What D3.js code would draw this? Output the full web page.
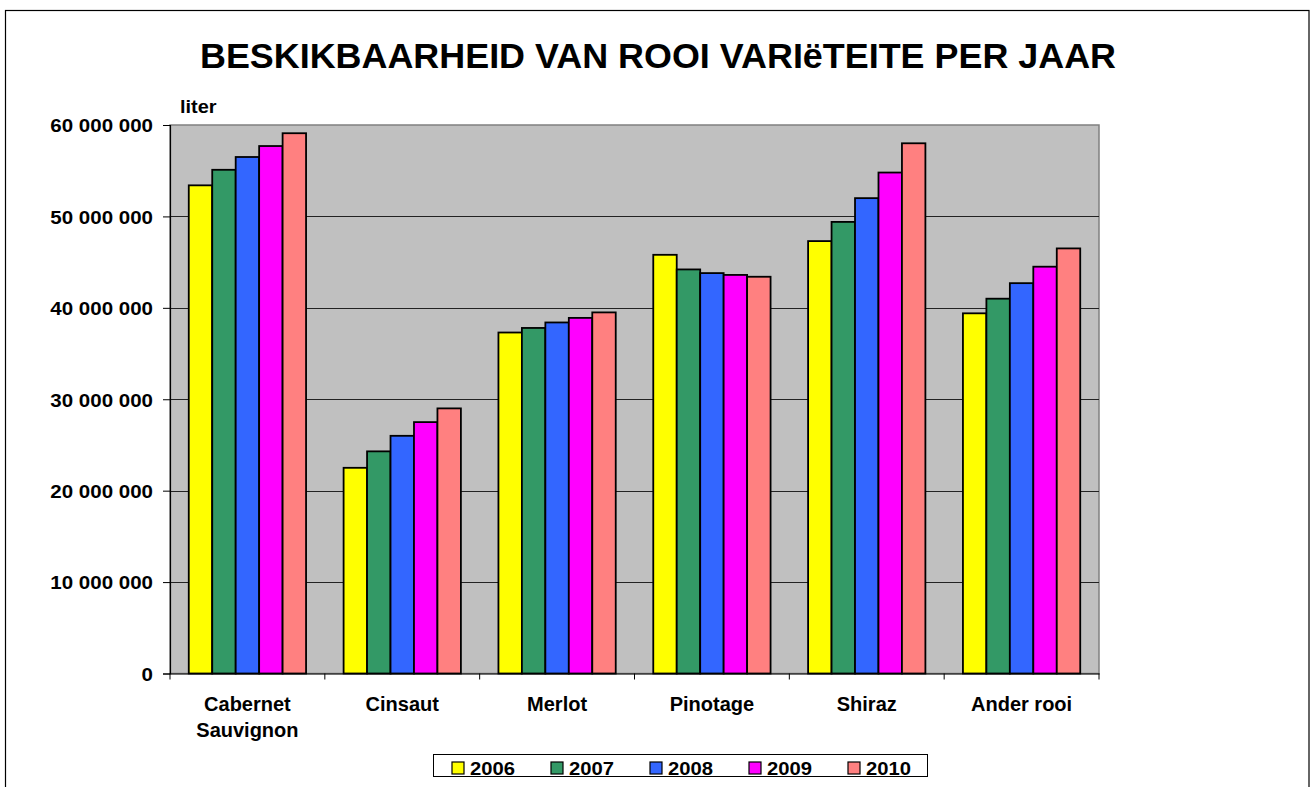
<!DOCTYPE html>
<html>
<head>
<meta charset="utf-8">
<script src="https://cdn.jsdelivr.net/npm/d3@7"></script>
<style>
  body { margin: 0; background: #fff; }
  text { font-family: Arial, "Liberation Sans", sans-serif; font-weight: bold; fill: #000; }
</style>
</head>
<body>
<svg id="chart" width="1311" height="787"></svg>
<script>
const categories = ["Cabernet Sauvignon", "Cinsaut", "Merlot", "Pinotage", "Shiraz", "Ander rooi"];
const categoryLines = [["Cabernet", "Sauvignon"], ["Cinsaut"], ["Merlot"], ["Pinotage"], ["Shiraz"], ["Ander rooi"]];
const years = ["2006", "2007", "2008", "2009", "2010"];
const colors = ["#FFFF00", "#339966", "#3366FF", "#FF00FF", "#FF8080"];
const values2006 = [53400000, 22500000, 37300000, 45800000, 47300000, 39400000];
const values2007 = [55100000, 24300000, 37800000, 44200000, 49400000, 41000000];
const values2008 = [56500000, 26000000, 38400000, 43800000, 52000000, 42700000];
const values2009 = [57700000, 27500000, 38900000, 43600000, 54800000, 44500000];
const values2010 = [59100000, 29000000, 39500000, 43400000, 58000000, 46500000];
const series = [values2006, values2007, values2008, values2009, values2010];
const yTicks = [0, 10000000, 20000000, 30000000, 40000000, 50000000, 60000000];
const title = "BESKIKBAARHEID VAN ROOI VARIëTEITE PER JAAR";
const unitLabel = "liter";

const svg = d3.select("#chart");
const plot = { left: 170, right: 1099, top: 125, bottom: 673.5 };

function fitWidth(sel, target) {
  sel.attr("textLength", target).attr("lengthAdjust", "spacingAndGlyphs");
}
function stretch(sel, f) {
  sel.each(function () {
    const w = this.getComputedTextLength();
    d3.select(this).attr("textLength", w * f).attr("lengthAdjust", "spacingAndGlyphs");
  });
}

// outer border
svg.append("rect").attr("x", 5.5).attr("y", 10.5).attr("width", 1303.5).attr("height", 790)
  .attr("fill", "none").attr("stroke", "#000").attr("stroke-width", 1.2);

const x0 = d3.scaleBand().domain(categories).range([plot.left, plot.right]).padding(0);
const x1 = d3.scaleBand().domain(years).range([0, x0.bandwidth()]).paddingInner(0).paddingOuter(0.8);
const y = d3.scaleLinear().domain([0, 60000000]).range([plot.bottom, plot.top]);

// plot background
svg.append("rect").attr("x", plot.left).attr("y", plot.top)
  .attr("width", plot.right - plot.left).attr("height", plot.bottom - plot.top)
  .attr("fill", "#C0C0C0").attr("stroke", "#808080").attr("stroke-width", 1.5);

// gridlines
svg.append("g").selectAll("line").data(yTicks.filter(d => d > 0 && d < 60000000)).join("line")
  .attr("x1", plot.left).attr("x2", plot.right)
  .attr("y1", d => Math.round(y(d)) + 0.5).attr("y2", d => Math.round(y(d)) + 0.5)
  .attr("stroke", "#222").attr("stroke-width", 1);

// bars
const gBars = svg.append("g");
years.forEach((yr, si) => {
  gBars.selectAll(null).data(categories).join("rect")
    .attr("x", c => x0(c) + x1(yr))
    .attr("y", (c, i) => y(series[si][i]))
    .attr("width", x1.bandwidth())
    .attr("height", (c, i) => plot.bottom - y(series[si][i]))
    .attr("fill", colors[si])
    .attr("stroke", "#000").attr("stroke-width", 1.8);
});

// y axis
const yAxis = d3.axisLeft(y).tickValues(yTicks).tickSize(7).tickPadding(10)
  .tickFormat(d => d3.format(",")(d).replace(/,/g, " "));
const gy = svg.append("g").attr("transform", `translate(${plot.left},0)`).call(yAxis);
gy.select(".domain").attr("stroke", "#000").attr("stroke-width", 1.2);
gy.selectAll(".tick line").attr("stroke", "#000");
gy.selectAll(".tick text").attr("font-size", 19).attr("font-family", "Arial, 'Liberation Sans', sans-serif")
  .attr("font-weight", "bold").attr("fill", "#000").attr("dy", "0.36em");
stretch(gy.selectAll(".tick text"), 1.08);

// x axis
const xAxis = d3.axisBottom(x0).tickSize(0).tickFormat("");
const gx = svg.append("g").attr("transform", `translate(0,${plot.bottom})`).call(xAxis);
gx.select(".domain").attr("stroke", "#000").attr("stroke-width", 1.2);
const bounds = categories.map(c => x0(c)).concat([plot.right]);
svg.append("g").selectAll("line").data(bounds).join("line")
  .attr("x1", d => d).attr("x2", d => d)
  .attr("y1", plot.bottom).attr("y2", plot.bottom + 6)
  .attr("stroke", "#000").attr("stroke-width", 1);

// category labels
categories.forEach((c, i) => {
  const t = svg.append("text").attr("x", x0(c) + x0.bandwidth() / 2).attr("y", 711)
    .attr("text-anchor", "middle").attr("font-size", 20);
  categoryLines[i].forEach((ln, j) => {
    t.append("tspan").attr("x", x0(c) + x0.bandwidth() / 2).attr("dy", j === 0 ? 0 : 26).text(ln);
  });
});

// title
const tt = svg.append("text").attr("x", 658).attr("y", 68).attr("text-anchor", "middle")
  .attr("font-size", 35).text(title);
fitWidth(tt, 916);

// unit label
const ul = svg.append("text").attr("x", 180).attr("y", 113).attr("font-size", 19).text(unitLabel);
stretch(ul, 1.05);

// legend
const lg = svg.append("g");
lg.append("rect").attr("x", 433.5).attr("y", 754.5).attr("width", 494).attr("height", 22)
  .attr("fill", "#fff").attr("stroke", "#000").attr("stroke-width", 1);
const legX = d3.scalePoint().domain(years).range([452, 848]);
years.forEach((yr, i) => {
  lg.append("rect").attr("x", legX(yr)).attr("y", 762).attr("width", 12).attr("height", 12)
    .attr("fill", colors[i]).attr("stroke", "#000").attr("stroke-width", 1.2);
  const t = lg.append("text").attr("x", legX(yr) + 18).attr("y", 775).attr("font-size", 19).text(yr);
  fitWidth(t, 45);
});
</script>
</body>
</html>
